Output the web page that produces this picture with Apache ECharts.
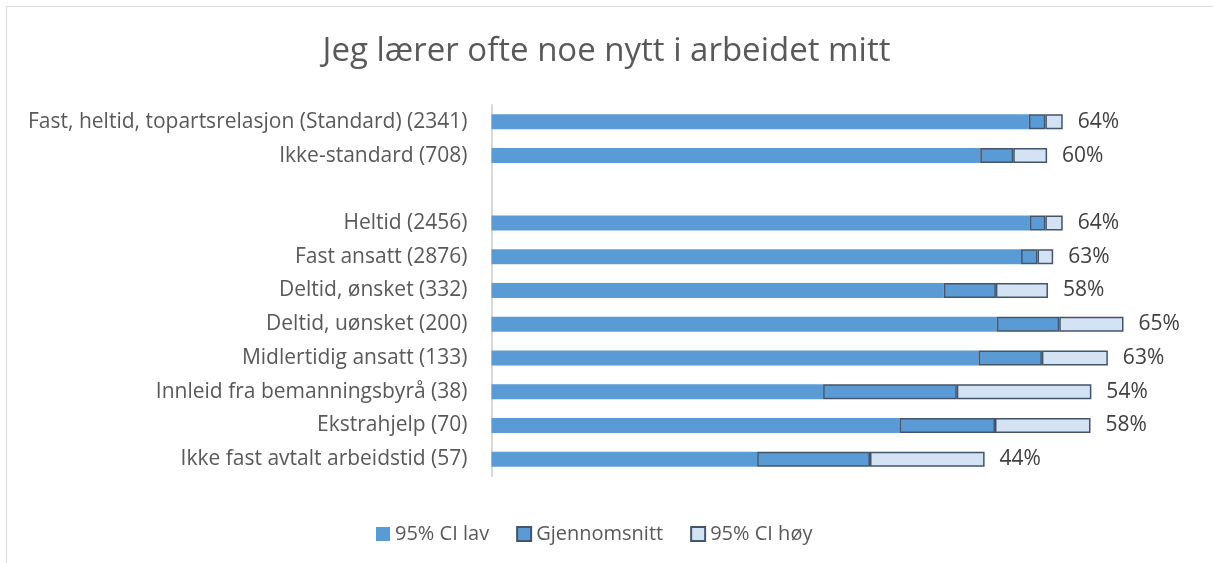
<!DOCTYPE html>
<html>
<head>
<meta charset="utf-8">
<script src="https://cdn.jsdelivr.net/npm/echarts@6.0.0/dist/echarts.min.js"></script>
<style>
  html, body { margin: 0; padding: 0; background: #fff; }
  #chart-container { width: 1213px; height: 563px; }
</style>
</head>
<body>
<div id="chart-container"></div>
<script>
const categories = [
  'Fast, heltid, topartsrelasjon (Standard) (2341)',
  'Ikke-standard (708)',
  '',
  'Heltid (2456)',
  'Fast ansatt (2876)',
  'Deltid, ønsket (332)',
  'Deltid, uønsket (200)',
  'Midlertidig ansatt (133)',
  'Innleid fra bemanningsbyrå (38)',
  'Ekstrahjelp (70)',
  'Ikke fast avtalt arbeidstid (57)'
];
const ciLow  = [61.9, 56.3, null, 62.0, 61.0, 52.1, 58.2, 56.1, 38.2, 47.0, 30.6];
const mean   = [63.8, 60.1, null, 63.8, 62.9, 58.1, 65.4, 63.4, 53.6, 58.0, 43.6];
const ciHigh = [65.8, 64.0, null, 65.8, 64.7, 64.1, 72.8, 71.0, 69.1, 69.0, 56.8];

const meanSeg = mean.map((m, i) => m == null ? null : +(m - ciLow[i]).toFixed(2));
const highSeg = ciHigh.map((h, i) => h == null ? null : +(h - mean[i]).toFixed(2));

const chart = echarts.init(document.getElementById('chart-container'));
const FONT = '"Open Sans", "Noto Sans", sans-serif';
const edge = '#44546A';

chart.setOption({
  animation: false,
  textStyle: { fontFamily: FONT },
  graphic: [{
    type: 'rect', silent: true,
    shape: { x: 6.5, y: 6.5, width: 1230, height: 600 },
    style: { fill: 'none', stroke: '#d9d9d9', lineWidth: 1 }
  }],
  title: {
    text: 'Jeg lærer ofte noe nytt i arbeidet mitt',
    left: 'center', top: 30,
    textStyle: { fontSize: 33, fontWeight: 'normal', color: '#595959', fontFamily: FONT }
  },
  legend: {
    left: 371, top: 519,
    itemWidth: 14, itemHeight: 14, itemGap: 27,
    icon: 'rect',
    textStyle: { fontSize: 20, color: '#595959', fontFamily: FONT },
    data: ['95% CI lav', 'Gjennomsnitt', '95% CI høy']
  },
  grid: { left: 491.5, right: 27, top: 105, bottom: 87, containLabel: false },
  xAxis: {
    type: 'value', min: 0, max: 80,
    show: false
  },
  yAxis: {
    type: 'category', data: categories, inverse: true,
    axisLine: { show: true, lineStyle: { color: '#d9d9d9', width: 2 } },
    axisTick: { show: false },
    axisLabel: { fontSize: 21, color: '#595959', margin: 24, fontFamily: FONT }
  },
  series: [
    {
      name: '95% CI lav', type: 'bar', stack: 'ci', barWidth: 15,
      itemStyle: { color: '#5B9BD5' },
      data: ciLow
    },
    {
      name: 'Gjennomsnitt', type: 'bar', stack: 'ci', barWidth: 15,
      itemStyle: { color: '#5B9BD5', borderColor: edge, borderWidth: 1.5 },
      data: meanSeg
    },
    {
      name: '95% CI høy', type: 'bar', stack: 'ci', barWidth: 15,
      itemStyle: { color: '#D4E3F3', borderColor: edge, borderWidth: 1.5 },
      label: {
        show: true, position: 'right', distance: 15,
        fontSize: 21, color: '#404040', fontFamily: FONT,
        formatter: p => mean[p.dataIndex] == null ? '' : Math.round(mean[p.dataIndex]) + '%'
      },
      data: highSeg
    }
  ]
});
</script>
</body>
</html>
